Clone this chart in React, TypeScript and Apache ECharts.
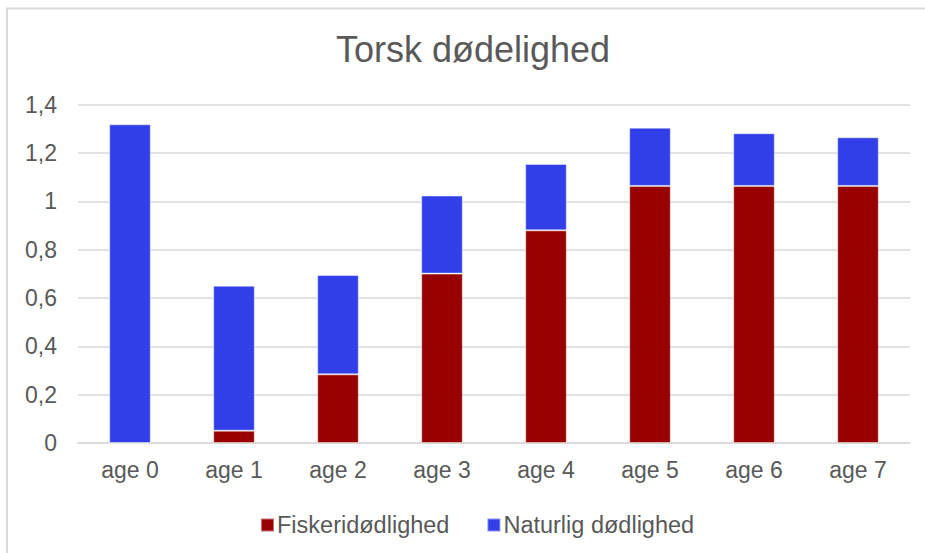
import React, { useEffect, useRef } from "react";
import * as echarts from "echarts";

const categories = ["age 0", "age 1", "age 2", "age 3", "age 4", "age 5", "age 6", "age 7"];
const fiskeri = [0, 0.051, 0.284, 0.701, 0.88, 1.064, 1.064, 1.064];
const naturlig = [1.319, 0.6, 0.411, 0.323, 0.275, 0.241, 0.218, 0.201];
const titleText = "Torsk dødelighed";
const seriesNames = ["Fiskeridødlighed", "Naturlig dødlighed"];

const FONT = "'Liberation Sans', Arial, sans-serif";
const TXT = "#595959";

export default function App() {
  const ref = useRef<HTMLDivElement>(null);
  useEffect(() => {
    if (!ref.current) return;
    const chart = echarts.init(ref.current, null, { renderer: "svg" });
    chart.setOption({
      animation: false,
      backgroundColor: "#ffffff",
      textStyle: { fontFamily: FONT },
      graphic: [
        {
          type: "rect",
          shape: { x: 7, y: 8.5, width: 1000, height: 600 },
          style: { fill: "none", stroke: "#d9d9d9", lineWidth: 2 },
          silent: true,
        },
        {
          type: "text",
          x: 473,
          y: 49,
          style: {
            text: titleText,
            fill: TXT,
            font: `36px ${FONT}`,
            textAlign: "center",
            textVerticalAlign: "middle",
          },
        },
      ],
      legend: {
        left: 255,
        top: 508,
        itemWidth: 13,
        itemHeight: 13,
        itemGap: 37,
        icon: "rect",
        textStyle: { color: TXT, fontSize: 23.5, fontFamily: FONT, padding: [0, 0, 0, -2] },
        data: seriesNames,
      },
      grid: { left: 78, right: 15, top: 104.7, bottom: 110, containLabel: false },
      xAxis: {
        type: "category",
        data: categories,
        axisLine: { lineStyle: { color: "#d9d9d9", width: 1.5 } },
        axisTick: { show: false },
        axisLabel: { color: TXT, fontSize: 23, fontFamily: FONT, margin: 15 },
      },
      yAxis: {
        type: "value",
        min: 0,
        max: 1.4,
        interval: 0.2,
        axisLine: { show: false },
        axisTick: { show: false },
        splitLine: { lineStyle: { color: "#d9d9d9", width: 1.5 } },
        axisLabel: {
          color: TXT,
          fontSize: 23,
          fontFamily: FONT,
          margin: 21,
          formatter: (v: number) => String(Math.round(v * 10) / 10).replace(".", ","),
        },
      },
      series: [
        {
          name: seriesNames[0],
          type: "bar",
          stack: "total",
          barWidth: "40%",
          data: fiskeri,
          itemStyle: { color: "#990000", borderColor: "rgba(255,255,255,0.45)", borderWidth: 1 },
        },
        {
          name: seriesNames[1],
          type: "bar",
          stack: "total",
          barWidth: "40%",
          data: naturlig,
          itemStyle: { color: "#323FE8", borderColor: "rgba(255,255,255,0.45)", borderWidth: 1 },
        },
      ],
    });
    return () => chart.dispose();
  }, []);
  return (
    <div
      ref={ref}
      style={{ position: "fixed", left: 0, top: 0, width: 925, height: 553 }}
    />
  );
}
